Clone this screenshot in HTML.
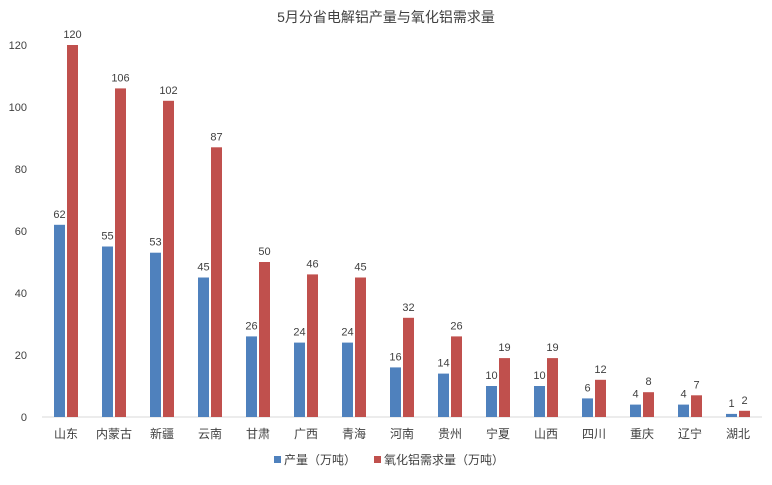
<!DOCTYPE html>
<html><head><meta charset="utf-8"><style>
body{margin:0;background:#fff;}
svg text{font-family:"Liberation Sans","Noto Sans CJK SC",sans-serif;fill:#404040;}
</style></head><body>
<svg id="chart" width="772" height="480" xmlns="http://www.w3.org/2000/svg">
<text x="386" y="22" font-size="14" text-anchor="middle">5月分省电解铝产量与氧化铝需求量</text>
<g id="yticks"></g>
<line x1="42" y1="417" x2="762" y2="417" stroke="#d9d9d9" stroke-width="1"/>
<g id="bars"></g>
<g>
<rect x="274" y="456" width="7" height="7" fill="#4f81bd"/>
<text x="284" y="464" font-size="12">产量（万吨）</text>
<rect x="374" y="456" width="7" height="7" fill="#c0504d"/>
<text x="384" y="464" font-size="12">氧化铝需求量（万吨）</text>
</g>
</svg>
<script>
const categories=["山东","内蒙古","新疆","云南","甘肃","广西","青海","河南","贵州","宁夏","山西","四川","重庆","辽宁","湖北"];
const production=[62,55,53,45,26,24,24,16,14,10,10,6,4,4,1];
const alumina=[120,106,102,87,50,46,45,32,26,19,19,12,8,7,2];
const yTicks=[0,20,40,60,80,100,120];
const NS="http://www.w3.org/2000/svg";
const x0=42,bw=48,yBase=417,yTop=45,yMax=120;
const y=v=>yBase-v*(yBase-yTop)/yMax;
const xc=i=>x0+bw*i+bw/2;
function mk(tag,attrs,parent){const e=document.createElementNS(NS,tag);for(const k in attrs)e.setAttribute(k,attrs[k]);parent.appendChild(e);return e;}
const yt=document.getElementById('yticks');
yTicks.forEach(t=>{const e=mk('text',{x:27,y:y(t)+4,'font-size':11,'text-anchor':'end'},yt);


e.textContent=t;});
const g=document.getElementById('bars');
categories.forEach((c,i)=>{
 const cx=xc(i);
 const b=mk('rect',{x:cx-12,y:y(production[i]),width:11,height:yBase-y(production[i]),fill:'#4f81bd'},g);
 
 
 const r=mk('rect',{x:cx+1,y:y(alumina[i]),width:11,height:yBase-y(alumina[i]),fill:'#c0504d'},g);
 
 
 const l1=mk('text',{x:cx-6.5,y:y(production[i])-7,'font-size':11,'text-anchor':'middle'},g);
 
 
 l1.textContent=production[i];
 const l2=mk('text',{x:cx+6.5,y:y(alumina[i])-7,'font-size':11,'text-anchor':'middle'},g);
 
 
 l2.textContent=alumina[i];
 const cl=mk('text',{x:cx,y:438,'font-size':12,'text-anchor':'middle'},g);
 
 
 cl.textContent=c;
});
</script>
</body></html>
